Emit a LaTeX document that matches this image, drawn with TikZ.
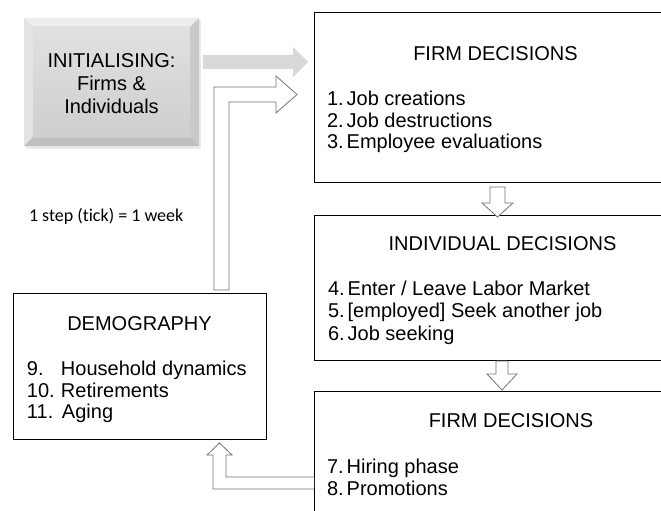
\documentclass[tikz,border=0pt]{standalone}
\usepackage{fontspec}
\setmainfont{Liberation Sans}
\newfontfamily\calib[Ligatures=NoCommon]{Carlito}
\newcommand{\ts}{\hspace{3pt}}
\begin{document}
\begin{tikzpicture}[x=1pt,y=-1pt,
  box/.style={draw=black, line width=1.3pt, fill=white},
  hollow/.style={draw=black!55, line width=0.8pt, fill=white, line join=miter},
  txt/.style={inner sep=0pt, outer sep=0pt, font=\fontsize{20}{23}\selectfont},
  note/.style={inner sep=0pt, outer sep=0pt, font=\calib\fontsize{18}{20}\selectfont}
]
\useasboundingbox (0,0) rectangle (661,511);
\clip (0,0) rectangle (661,511);
\fill[white] (0,0) rectangle (661,511);

% --- initialising bevel box
\coordinate (i1) at (24,18); \coordinate (i2) at (199,146);
\coordinate (j1) at (33,27); \coordinate (j2) at (190,137);
\fill[black!8] (26,20) rectangle (201,149);
\fill[black!7] (i1) -- (199,18) -- (190,27) -- (33,27) -- cycle;
\fill[black!11] (i1) -- (33,27) -- (33,137) -- (24,146) -- cycle;
\fill[black!21] (199,18) -- (199,146) -- (190,137) -- (190,27) -- cycle;
\fill[black!25] (24,146) -- (199,146) -- (190,137) -- (33,137) -- cycle;
\shade[top color=black!12, bottom color=black!19] (j1) rectangle (j2);
\node[txt, anchor=base] (ini1) at (111.5,67) {INITIALISING:};
\node[txt, anchor=base] (ini2) at (111.5,90) {Firms \&};
\node[txt, anchor=base] (ini3) at (111.5,113) {Individuals};

% --- gray arrow
\fill[black!15] (203,55) -- (293,55) -- (293,47) -- (308,62) -- (293,77) -- (293,69) -- (203,69) -- cycle;

% --- boxes
\node[box, anchor=north west, minimum width=370pt, minimum height=170pt] (f1) at (314,12) {};
\node[box, anchor=north west, minimum width=380pt, minimum height=145pt] (id) at (314,215) {};
\node[box, anchor=north west, minimum width=400pt, minimum height=140pt] (f2) at (314,391) {};
\node[box, anchor=north west, minimum width=253pt, minimum height=146pt] (dm) at (13,293) {};

% --- box texts
\node[txt, anchor=base] (f1t) at (495.5,60) {FIRM DECISIONS};
\node[txt, anchor=base west] (f1a) at (327,105) {1.\ts Job creations};
\node[txt, anchor=base west] (f1b) at (327,127) {2.\ts Job destructions};
\node[txt, anchor=base west] (f1c) at (327,148.5) {3.\ts Employee evaluations};

\node[txt, anchor=base] (idt) at (502.5,250) {INDIVIDUAL DECISIONS};
\node[txt, anchor=base west] (ida) at (328,295) {4.\ts Enter / Leave Labor Market};
\node[txt, anchor=base west] (idb) at (328,317.5) {5.\ts [employed] Seek another job};
\node[txt, anchor=base west] (idc) at (328,340) {6.\ts Job seeking};

\node[txt, anchor=base] (f2t) at (511,427) {FIRM DECISIONS};
\node[txt, anchor=base west] (f2a) at (327,473) {7.\ts Hiring phase};
\node[txt, anchor=base west] (f2b) at (327,495) {8.\ts Promotions};

\node[txt, anchor=base] (dmt) at (139.5,330) {DEMOGRAPHY};
\node[txt, anchor=base west] (dma) at (27,375) {\makebox[34pt][l]{9.}Household dynamics};
\node[txt, anchor=base west] (dmb) at (27,397) {\makebox[34pt][l]{10.}Retirements};
\node[txt, anchor=base west] (dmc) at (27,418.5) {\makebox[35pt][l]{11.}Aging};

\node[note, anchor=base west] (tick) at (29,221.5) {1 step (tick) = 1 week};

% --- hollow arrows
\draw[hollow] (214,290) -- (214,87) -- (276,87) -- (276,76) -- (297,94.5) -- (276,113) -- (276,102) -- (229,102) -- (229,290) -- cycle;
\draw[hollow] (490,187) -- (505,187) -- (505,203) -- (513,203) -- (497.5,217) -- (482,203) -- (490,203) -- cycle;
\draw[hollow] (496,361) -- (508,361) -- (508,374) -- (517,374) -- (502,390) -- (487,374) -- (496,374) -- cycle;
\draw[hollow] (f2.west |- 0,477) -- (226,477) -- (226,455) -- (232,455) -- (219.5,443) -- (207,455) -- (213,455) -- (213,489) -- (f2.west |- 0,489);
\end{tikzpicture}
\end{document}
